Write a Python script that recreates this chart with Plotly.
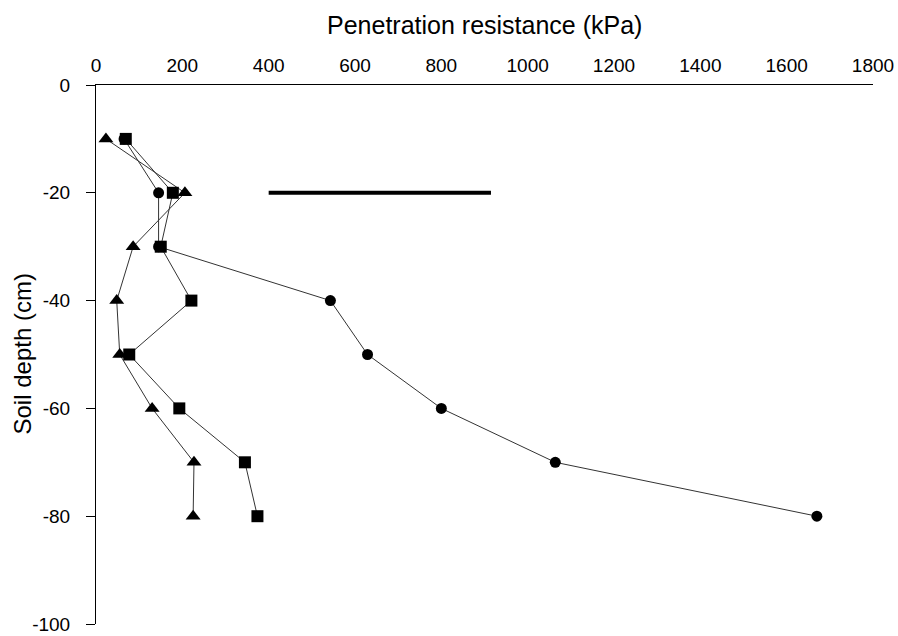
import plotly.graph_objects as go

depth = [-10, -20, -30, -40, -50, -60, -70, -80]
circle_x = [65, 145, 145, 543, 629, 800, 1064, 1670]
square_x = [69, 178, 150, 221, 77, 193, 345, 374]
triangle_x = [23, 206, 86, 48, 55, 130, 227, 225]

bar_x = [400, 915]
bar_y = [-20, -20]

x_ticks = [0, 200, 400, 600, 800, 1000, 1200, 1400, 1600, 1800]
y_ticks = [0, -20, -40, -60, -80, -100]

FONT = "Liberation Sans, Arial, sans-serif"
line_col = "#333333"

fig = go.Figure()
fig.add_trace(go.Scatter(x=bar_x, y=bar_y, mode="lines",
                         line=dict(color="black", width=4), showlegend=False))
fig.add_trace(go.Scatter(x=circle_x, y=depth, mode="lines+markers",
                         line=dict(color=line_col, width=1),
                         marker=dict(symbol="circle", size=11, color="black"),
                         showlegend=False))
fig.add_trace(go.Scatter(x=triangle_x, y=depth, mode="lines+markers",
                         line=dict(color=line_col, width=1),
                         marker=dict(symbol="triangle-up", size=13, color="black"),
                         showlegend=False))
fig.add_trace(go.Scatter(x=square_x, y=depth, mode="lines+markers",
                         line=dict(color=line_col, width=1),
                         marker=dict(symbol="square", size=12, color="black"),
                         showlegend=False))

fig.update_layout(
    width=898, height=636,
    margin=dict(l=96, r=25, t=85, b=12, autoexpand=False),
    paper_bgcolor="white", plot_bgcolor="white",
    font=dict(family=FONT, color="black"),
    xaxis=dict(range=[0, 1800], side="top", tickvals=x_ticks,
               ticktext=[str(v) for v in x_ticks],
               showline=True, linecolor="black", linewidth=1,
               ticks="", showgrid=False, zeroline=False, automargin=False,
               tickfont=dict(size=19, family=FONT, color="black"),
               ticklabelstandoff=4),
    yaxis=dict(range=[-100, 0], tickvals=y_ticks,
               ticktext=[str(v) for v in y_ticks],
               showline=True, linecolor="black", linewidth=1,
               ticks="outside", ticklen=9, tickwidth=1, tickcolor="black",
               showgrid=False, zeroline=False, automargin=False,
               tickfont=dict(size=19, family=FONT, color="black"),
               ticklabelstandoff=12, ticklabeloverflow="allow"),
    annotations=[
        dict(text="Penetration resistance (kPa)", x=0.5, y=1, xref="paper", yref="paper",
             xanchor="center", yanchor="middle", yshift=60, showarrow=False,
             font=dict(size=25, family=FONT, color="black")),
        dict(text="Soil depth (cm)", x=0, y=0.5, xref="paper", yref="paper",
             xanchor="center", yanchor="middle", xshift=-74, textangle=-90,
             showarrow=False, font=dict(size=24, family=FONT, color="black")),
    ],
)

fig.write_html("out.html")
